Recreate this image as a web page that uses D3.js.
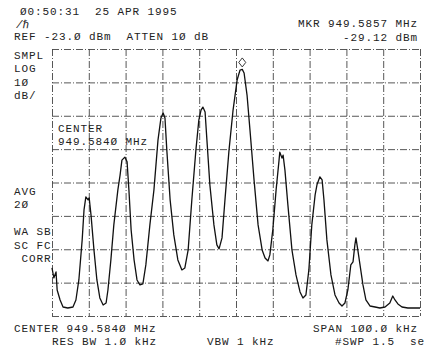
<!DOCTYPE html>
<html>
<head>
<meta charset="utf-8">
<script src="https://cdn.jsdelivr.net/npm/d3@7"></script>
<style>
  body { margin: 0; background: #fff; }
  text { font-family: "Liberation Mono", "DejaVu Sans Mono", monospace; font-size: 11px; letter-spacing: 0.9px; fill: #222; white-space: pre; }
  .grid line { stroke: #444; stroke-width: 0.9; stroke-dasharray: 7,2,1,2; }
  .grid .domain { display: none; }
</style>
</head>
<body>
<svg width="425" height="351"></svg>
<script>
// analyzer settings
var centerMHz = 949.5840, spanKHz = 100, refDbm = -23, dbPerDiv = 10;
var mkrOffset = 1.7, mkrLevel = -29.12;

// trace: frequency offset from center (kHz) and level (dBm)
var freqKHz = [-50, -49.5, -48.9, -48.6, -47.8, -47.0, -45.7, -44.3, -43.5, -42.7, -41.8, -41.3, -40.8, -40.2, -39.9, -39.4, -38.6, -37.8, -37.0, -36.1,
  -35.3, -34.8, -34.0, -33.2, -32.1, -31.5, -31.0, -30.2, -29.6, -29.1, -28.5, -27.7, -26.9, -26.1, -25.3, -24.5, -23.4, -22.3, -21.2, -20.4,
  -19.8, -19.3, -18.8, -17.9, -16.9, -15.8, -14.7, -13.9, -13.0, -12.0, -10.9, -10.1, -9.5, -9.0, -8.4, -7.9, -7.1, -6.0, -5.2, -4.6,
  -3.8, -3.0, -1.9, -0.8, 0.3, 1.1, 1.7, 2.2, 3.0, 3.8, 4.9, 6.0, 7.1, 7.9, 8.7, 9.2, 10.0, 10.9, 11.7, 11.9,
  12.5, 12.8, 13.3, 14.1, 15.2, 16.3, 17.4, 18.2, 19.0, 19.8, 20.6, 21.5, 22.0, 22.8, 23.4, 23.9, 24.7, 25.8, 26.9, 28.0,
  28.8, 29.6, 30.4, 31.2, 31.8, 32.3, 32.6, 33.1, 33.7, 34.5, 35.3, 36.4, 37.8, 39.1, 40.5, 41.8, 42.6, 43.2, 44.0, 45.1,
  46.7, 48.4, 50.0];
var levelDbm = [-88.6, -91.6, -89.8, -95.2, -98.2, -100.3, -100.6, -100.3, -98.2, -92.2, -80.2, -71.2, -67.3, -68.2, -67.6, -72.7, -83.2, -92.2, -97.6, -99.7,
  -99.1, -95.2, -86.2, -75.7, -65.2, -60.8, -56.3, -55.4, -56.8, -65.2, -77.2, -86.2, -92.2, -93.7, -93.4, -87.7, -75.7, -65.2, -50.3, -43.7,
  -42.2, -43.7, -53.3, -68.2, -78.7, -86.2, -89.2, -88.6, -83.2, -68.2, -53.3, -44.3, -41.3, -40.4, -41.9, -50.3, -63.7, -75.7, -81.7, -82.9,
  -79.6, -68.2, -53.3, -41.3, -32.3, -29.3, -29.1, -30.2, -36.8, -47.3, -62.2, -75.7, -83.2, -85.6, -86.5, -84.7, -77.2, -65.2, -56.3, -53.9,
  -55.7, -54.8, -59.3, -69.7, -83.2, -90.7, -95.8, -97.6, -96.7, -89.2, -75.7, -66.7, -63.7, -61.3, -62.2, -68.2, -80.2, -90.7, -96.7, -99.1,
  -100.0, -99.1, -95.2, -87.7, -86.8, -81.7, -79.6, -83.2, -87.7, -93.7, -98.2, -100.0, -100.3, -100.6, -100.3, -99.1, -97.0, -98.2, -99.4, -100.3,
  -100.6, -100.6, -100.6];

// screen annotations
var headerLeft = ["Ø0:50:31  25 APR 1995", "REF -23.Ø dBm  ATTEN 1Ø dB"];
var headerRight = ["MKR 949.5857 MHz", "-29.12 dBm"];
var sideTop = ["SMPL", "LOG", "1Ø", "dB/"];
var sideBottom = ["AVG", "2Ø", "", "WA SB", "SC FC", " CORR"];
var centerNote = ["CENTER", "949.584Ø MHz"];

var svg = d3.select("svg"),
    margin = {top: 49, right: 5, bottom: 35, left: 52},
    width = +svg.attr("width") - margin.left - margin.right,
    height = +svg.attr("height") - margin.top - margin.bottom;

svg.append("rect").attr("width", 425).attr("height", 351).attr("fill", "#fff");

var x = d3.scaleLinear().domain([-spanKHz / 2, spanKHz / 2]).range([0, width]),
    y = d3.scaleLinear().domain([refDbm - 8 * dbPerDiv, refDbm]).range([height, 0]);

var g = svg.append("g")
    .attr("transform", "translate(" + margin.left + "," + margin.top + ")");

// graticule: 10 x 8 divisions
g.append("g")
    .attr("class", "grid")
    .call(d3.axisBottom(x).tickValues(d3.range(-50, 51, 10)).tickSize(height).tickFormat(""));
g.append("g")
    .attr("class", "grid")
    .call(d3.axisLeft(y).tickValues(d3.range(-103, -22, 10)).tickSize(-width).tickFormat(""));

// trace
var line = d3.line()
    .x(function(d, i) { return x(freqKHz[i]); })
    .y(function(d) { return y(d); });

g.append("path")
    .datum(levelDbm)
    .attr("fill", "none")
    .attr("stroke", "#111")
    .attr("stroke-width", 1.3)
    .attr("stroke-linejoin", "round")
    .attr("d", line);

// marker diamond
var mx = x(mkrOffset), my = y(mkrLevel) - 7;
g.append("path")
    .attr("d", "M" + mx + "," + (my - 4.5) + "L" + (mx + 3.5) + "," + my + "L" + mx + "," + (my + 4.5) + "L" + (mx - 3.5) + "," + my + "Z")
    .attr("fill", "#fff")
    .attr("stroke", "#222")
    .attr("stroke-width", 0.9);

// text
svg.append("text").attr("x", 20).attr("y", 15).text(headerLeft[0]);
svg.append("text").attr("x", 14).attr("y", 40).text(headerLeft[1]);
svg.append("text").attr("x", 16).attr("y", 28).attr("font-size", "7px").attr("font-style", "italic").style("letter-spacing", "0px").text("/ℏ");

headerRight.forEach(function(t, i) {
  svg.append("text").attr("x", 418).attr("y", 27 + i * 14).attr("text-anchor", "end").text(t);
});
sideTop.forEach(function(t, i) {
  svg.append("text").attr("x", 14).attr("y", 59 + i * 13.3).text(t);
});
sideBottom.forEach(function(t, i) {
  svg.append("text").attr("x", 14).attr("y", 195 + i * 13.4).text(t);
});
centerNote.forEach(function(t, i) {
  svg.append("text").attr("x", 58).attr("y", 132 + i * 13).text(t);
});

svg.append("text").attr("x", 14).attr("y", 332).text("CENTER 949.584Ø MHz");
svg.append("text").attr("x", 418).attr("y", 332).attr("text-anchor", "end").text("SPAN 1ØØ.Ø kHz");
svg.append("text").attr("x", 52).attr("y", 345).text("RES BW 1.Ø kHz");
svg.append("text").attr("x", 207).attr("y", 345).text("VBW 1 kHz");
svg.append("text").attr("x", 335).attr("y", 345).text("#SWP 1.5  sec");
</script>
</body>
</html>
